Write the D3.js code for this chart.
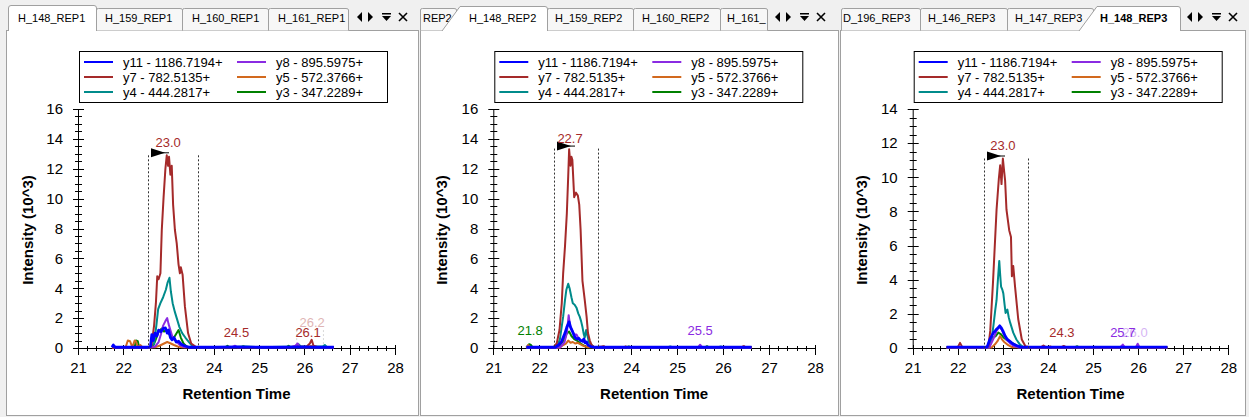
<!DOCTYPE html>
<html><head><meta charset="utf-8">
<script src="https://cdn.jsdelivr.net/npm/d3@7"></script>
<style>
body{margin:0;background:#f0f0f0;}
svg{display:block;font-family:"Liberation Sans",Arial,sans-serif;}
</style>
</head><body>
<svg id="c" width="1249" height="417"></svg>
<script>
// ---------------- DATA ----------------
const seriesNames = ["y11 - 1186.7194+","y8 - 895.5975+","y7 - 782.5135+","y5 - 572.3766+","y4 - 444.2817+","y3 - 347.2289+"];
const xTicks = [21,22,23,24,25,26,27,28];
const yTicks16 = [0,2,4,6,8,10,12,14,16];
const yTicks14 = [0,2,4,6,8,10,12,14];
const tabs1 = ["H_148_REP1","H_159_REP1","H_160_REP1","H_161_REP1"];
const tabs2 = ["REP2","H_148_REP2","H_159_REP2","H_160_REP2","H_161_"];
const tabs3 = ["D_196_REP3","H_146_REP3","H_147_REP3","H_148_REP3"];

// REP1 : [retention time, intensity 10^3]
const rep1_y11 = [[21.75,0.05],[21.78,0.2],[21.82,0.05],[22.0,0.05],[22.3,0.05],[22.55,0.05],[22.6,0.1],[22.63,0.9],[22.66,0.5],[22.7,1.0],[22.74,0.8],[22.78,1.2],[22.83,1.1],[22.88,1.3],[22.93,1.35],[22.97,1.0],[23.0,1.2],[23.04,0.7],[23.08,0.55],[23.12,0.7],[23.17,0.4],[23.22,0.45],[23.28,0.25],[23.35,0.15],[23.45,0.05],[24.0,0.05],[24.5,0.08],[25.0,0.05],[25.5,0.05],[26.0,0.07],[26.3,0.05],[26.65,0.05]];
const rep1_y8 = [[21.75,0.03],[22.6,0.03],[22.7,0.1],[22.78,0.4],[22.83,0.9],[22.88,1.5],[22.93,1.8],[22.97,2.0],[23.0,1.6],[23.04,1.2],[23.08,0.8],[23.12,0.65],[23.18,0.4],[23.25,0.2],[23.35,0.05],[24.4,0.05],[24.47,0.15],[24.52,0.05],[25.7,0.05],[25.8,0.15],[25.85,0.3],[25.9,0.05],[26.65,0.03]];
const rep1_y7 = [[21.75,0.02],[22.2,0.03],[22.55,0.05],[22.62,0.1],[22.68,1.5],[22.72,3.0],[22.75,4.8],[22.78,4.6],[22.82,5.0],[22.85,7.9],[22.89,10.1],[22.93,12.0],[22.96,12.9],[22.99,12.2],[23.01,12.8],[23.04,11.6],[23.07,12.2],[23.1,9.6],[23.14,7.9],[23.18,7.0],[23.22,5.6],[23.25,5.0],[23.27,5.4],[23.31,4.9],[23.36,2.8],[23.43,1.0],[23.5,0.3],[23.6,0.08],[23.7,0.05],[24.5,0.05],[25.5,0.05],[26.05,0.1],[26.12,0.3],[26.16,0.55],[26.2,0.15],[26.3,0.05],[26.65,0.03]];
const rep1_y5 = [[21.75,0.03],[22.05,0.03],[22.1,0.5],[22.15,0.45],[22.2,0.05],[22.25,0.5],[22.28,0.45],[22.32,0.05],[22.38,0.2],[22.42,0.05],[22.7,0.05],[22.8,0.15],[22.9,0.3],[22.97,0.4],[23.05,0.3],[23.12,0.2],[23.2,0.1],[23.3,0.05],[26.1,0.05],[26.15,0.15],[26.2,0.05],[26.65,0.03]];
const rep1_y4 = [[21.75,0.05],[22.3,0.05],[22.6,0.05],[22.68,0.3],[22.73,1.5],[22.77,2.6],[22.82,3.0],[22.88,3.4],[22.94,3.9],[22.98,4.4],[23.02,4.7],[23.05,3.8],[23.09,3.0],[23.14,2.4],[23.19,1.9],[23.24,1.4],[23.3,1.0],[23.37,0.7],[23.45,0.4],[23.52,0.15],[23.6,0.05],[24.3,0.05],[24.7,0.1],[25.0,0.05],[25.8,0.1],[25.87,0.25],[25.92,0.1],[26.4,0.1],[26.45,0.2],[26.5,0.05],[26.65,0.05]];
const rep1_y3 = [[21.75,0.03],[22.25,0.03],[22.28,0.5],[22.32,0.45],[22.35,0.05],[22.65,0.05],[22.72,0.6],[22.78,1.1],[22.85,1.3],[22.9,1.1],[22.95,1.2],[23.0,1.0],[23.05,0.8],[23.1,0.6],[23.16,0.9],[23.22,1.2],[23.27,0.7],[23.33,0.3],[23.4,0.1],[23.5,0.05],[24.25,0.05],[24.3,0.15],[24.35,0.05],[24.6,0.05],[24.65,0.12],[24.7,0.05],[25.6,0.05],[25.65,0.15],[25.7,0.05],[26.65,0.03]];

// REP2
const rep2_y11 = [[21.72,0.05],[22.35,0.05],[22.42,0.2],[22.48,0.4],[22.52,0.7],[22.56,1.0],[22.6,1.4],[22.65,1.75],[22.68,1.4],[22.71,1.2],[22.75,0.9],[22.78,0.7],[22.82,0.6],[22.86,0.65],[22.9,0.5],[22.94,0.45],[22.97,0.6],[23.0,0.35],[23.03,0.4],[23.06,0.2],[23.12,0.1],[23.2,0.05],[26.62,0.05]];
const rep2_y8 = [[21.72,0.03],[22.45,0.03],[22.55,0.4],[22.6,1.0],[22.64,2.2],[22.67,1.5],[22.71,1.2],[22.76,0.9],[22.81,0.9],[22.86,0.6],[22.92,0.5],[22.97,0.4],[23.03,0.3],[23.1,0.1],[23.2,0.03],[25.45,0.03],[25.5,0.22],[25.55,0.03],[26.62,0.03]];
const rep2_y7 = [[21.72,0.03],[22.3,0.03],[22.38,0.3],[22.44,1.2],[22.49,3.0],[22.52,5.0],[22.56,6.8],[22.6,9.0],[22.63,11.5],[22.65,13.3],[22.68,12.2],[22.7,12.8],[22.72,12.6],[22.76,10.1],[22.8,10.4],[22.84,10.2],[22.87,9.6],[22.9,7.9],[22.94,4.5],[22.99,3.2],[23.03,2.1],[23.06,1.0],[23.1,0.5],[23.14,0.2],[23.2,0.05],[23.4,0.1],[23.45,0.05],[24.0,0.05],[26.4,0.05],[26.45,0.12],[26.5,0.03],[26.62,0.03]];
const rep2_y5 = [[21.72,0.03],[21.76,0.2],[21.8,0.03],[22.45,0.03],[22.52,0.2],[22.58,0.3],[22.63,0.5],[22.68,0.35],[22.73,0.4],[22.78,0.3],[22.84,0.35],[22.9,0.25],[22.96,0.15],[23.05,0.05],[23.35,0.05],[23.4,0.12],[23.45,0.03],[23.85,0.03],[23.88,0.12],[23.92,0.03],[26.4,0.03],[26.45,0.1],[26.5,0.03],[26.62,0.03]];
const rep2_y4 = [[21.72,0.03],[22.38,0.05],[22.45,0.6],[22.52,2.1],[22.56,3.2],[22.59,3.9],[22.63,4.3],[22.66,4.0],[22.7,3.4],[22.73,3.0],[22.77,2.9],[22.81,2.7],[22.85,2.3],[22.88,2.1],[22.91,1.8],[22.94,1.4],[22.97,0.9],[22.99,0.7],[23.02,1.2],[23.05,0.8],[23.08,0.4],[23.14,0.2],[23.2,0.05],[24.8,0.05],[24.85,0.1],[24.9,0.05],[25.9,0.05],[25.95,0.1],[26.0,0.05],[26.62,0.03]];
const rep2_y3 = [[21.72,0.03],[21.78,0.25],[21.82,0.2],[21.86,0.03],[22.42,0.03],[22.5,0.4],[22.55,0.6],[22.6,1.0],[22.65,1.1],[22.7,0.8],[22.76,0.6],[22.82,0.5],[22.9,0.3],[22.98,0.15],[23.05,0.05],[23.9,0.05],[23.95,0.1],[24.0,0.03],[25.6,0.03],[25.65,0.12],[25.7,0.03],[26.62,0.03]];

// REP3
const rep3_y11 = [[21.75,0.05],[22.65,0.05],[22.71,0.5],[22.75,0.7],[22.79,0.9],[22.83,1.0],[22.86,1.1],[22.9,1.2],[22.93,1.3],[22.96,1.2],[23.0,1.0],[23.05,0.7],[23.1,0.5],[23.15,0.4],[23.22,0.25],[23.3,0.15],[23.4,0.05],[26.65,0.05]];
const rep3_y8 = [[21.75,0.03],[22.7,0.03],[22.8,0.6],[22.86,1.0],[22.92,1.25],[22.97,1.1],[23.02,0.8],[23.08,0.5],[23.15,0.3],[23.25,0.1],[23.35,0.03],[25.6,0.03],[25.66,0.2],[25.7,0.05],[25.95,0.05],[25.99,0.25],[26.03,0.05],[26.65,0.03]];
const rep3_y7 = [[21.75,0.03],[22.0,0.05],[22.05,0.3],[22.1,0.05],[22.6,0.05],[22.68,0.1],[22.72,1.0],[22.75,2.4],[22.78,3.8],[22.81,5.4],[22.86,8.1],[22.91,9.9],[22.94,10.7],[22.97,9.6],[23.0,11.1],[23.03,10.3],[23.05,9.8],[23.08,8.1],[23.14,6.9],[23.18,6.5],[23.2,4.2],[23.23,4.8],[23.27,3.6],[23.34,1.7],[23.42,0.5],[23.5,0.1],[23.6,0.05],[23.85,0.05],[23.9,0.15],[23.95,0.05],[24.3,0.05],[24.35,0.12],[24.4,0.05],[26.65,0.03]];
const rep3_y5 = [[21.75,0.03],[22.75,0.03],[22.82,0.2],[22.88,0.4],[22.94,0.7],[22.98,0.5],[23.03,0.35],[23.1,0.2],[23.2,0.05],[24.0,0.03],[24.05,0.1],[24.1,0.03],[26.65,0.03]];
const rep3_y4 = [[21.75,0.03],[22.7,0.03],[22.75,0.5],[22.79,1.3],[22.83,2.2],[22.86,2.8],[22.89,4.0],[22.92,5.1],[22.94,4.3],[22.96,3.6],[22.99,3.4],[23.01,3.2],[23.04,2.5],[23.06,2.05],[23.1,2.25],[23.13,1.8],[23.16,1.5],[23.23,0.9],[23.3,0.5],[23.38,0.2],[23.45,0.05],[26.65,0.03]];
const rep3_y3 = [[21.75,0.03],[22.65,0.03],[22.72,0.5],[22.78,0.6],[22.84,0.7],[22.9,0.9],[22.96,0.8],[23.02,0.6],[23.1,0.45],[23.2,0.3],[23.3,0.15],[23.4,0.05],[24.6,0.05],[24.65,0.1],[24.7,0.03],[26.65,0.03]];

// peak labels: [time, intensity at text baseline, text, series index, faded]
const rep1_labels = [[22.99,13.45,"23.0",2,0],[24.5,0.74,"24.5",2,0],[26.17,1.4,"26.2",2,1],[26.08,0.74,"26.1",2,0]];
const rep2_labels = [[22.67,13.72,"22.7",2,0],[21.8,0.87,"21.8",5,0],[25.5,0.87,"25.5",1,0]];
const rep3_labels = [[23.0,11.6,"23.0",2,0],[24.31,0.64,"24.3",2,0],[25.93,0.64,"26.0",1,1],[25.66,0.64,"25.7",1,0]];
// integration boundaries: [start, end, apex intensity]
const rep1_bounds = [22.54,23.64,12.9];
const rep2_bounds = [22.32,23.28,13.35];
const rep3_bounds = [22.58,23.56,11.1];
const rep1_ghost = [25.83,26.42,1.2];

// ---------------- STYLE / LAYOUT ----------------
const colors = ["#0000ff","#8a2be2","#a52a2a","#d2691e","#008b8b","#008000"];
const svg = d3.select("#c");

const panels = [
  {left:6,right:419,x0:78,x1:395,yMax:16,yTicks:yTicks16,
   series:[rep1_y11,rep1_y8,rep1_y7,rep1_y5,rep1_y4,rep1_y3],labels:rep1_labels,bounds:rep1_bounds,ghost:rep1_ghost,
   tabs:tabs1,tabEdges:[8,96,182,268,348],tabText:[18,105,192,278],active:0,bold:false,slant:false,icons:357},
  {left:420,right:839,x0:493.3,x1:815,yMax:16,yTicks:yTicks16,
   series:[rep2_y11,rep2_y8,rep2_y7,rep2_y5,rep2_y4,rep2_y3],labels:rep2_labels,bounds:rep2_bounds,ghost:null,
   tabs:tabs2,tabEdges:[420,456,547,633,720,767],tabText:[423,469,555,642,727],active:1,bold:false,slant:true,icons:775},
  {left:840,right:1246,x0:912.7,x1:1228.3,yMax:14,yTicks:yTicks14,
   series:[rep3_y11,rep3_y8,rep3_y7,rep3_y5,rep3_y4,rep3_y3],labels:rep3_labels,bounds:rep3_bounds,ghost:null,
   tabs:tabs3,tabEdges:[841,920,1007,1093,1180],tabText:[843,928,1015,1100],active:3,bold:true,slant:true,icons:1187}
];

const Y0 = 348, Y1 = 109;
const TABFONT = 11;

function drawTabs(p){
  const g = svg.append("g");
  g.append("rect").attr("x",p.left+0.5).attr("y",30.5).attr("width",p.right-p.left-1).attr("height",385)
    .attr("fill","#fff").attr("stroke","#a0a0a0");
  const e = p.tabEdges;
  for(let i=0;i<p.tabs.length;i++){
    if(i===p.active) continue;
    const a=e[i], b=e[i+1];
    const x0 = a+0.5;
    const d=`M${x0},30.5 L${x0},10 Q${x0},8.5 ${x0+2},8.5 L${b-2},8.5 Q${b+0.5},8.5 ${b+0.5},10 L${b+0.5},30.5`;
    g.append("path").attr("d",d).attr("fill","#f7f7f7").attr("stroke","#a0a0a0");
    g.append("text").attr("x",p.tabText[i]).attr("y",22).attr("font-size",TABFONT)
      .attr("fill","#000").text(p.tabs[i]);
  }
  const i=p.active, a=e[i], b=e[i+1];
  const d = p.slant ? `M${a-14},31 L${a+4},6.5 L${b-2},6.5 Q${b+0.5},6.5 ${b+0.5},9 L${b+0.5},31`
                    : `M${a+0.5},31 L${a+0.5},8 Q${a+0.5},5.5 ${a+3},5.5 L${b-2},5.5 Q${b+0.5},5.5 ${b+0.5},8 L${b+0.5},31`;
  g.append("path").attr("d",d+" Z").attr("fill","#fff").attr("stroke","none");
  g.append("path").attr("d",d).attr("fill","none").attr("stroke","#a0a0a0");
  g.append("text").attr("x",p.tabText[i]).attr("y",22).attr("font-size",TABFONT)
    .attr("font-weight",p.bold?"bold":"normal").text(p.tabs[i]);
  const ix=p.icons, iy=17;
  g.append("path").attr("d",`M${ix+5},${iy-5} L${ix},${iy} L${ix+5},${iy+5} Z`).attr("fill","#000");
  g.append("path").attr("d",`M${ix+11},${iy-5} L${ix+16},${iy} L${ix+11},${iy+5} Z`).attr("fill","#000");
  g.append("rect").attr("x",ix+25).attr("y",iy-4).attr("width",9).attr("height",1.5).attr("fill","#000");
  g.append("path").attr("d",`M${ix+25},${iy-1} L${ix+34},${iy-1} L${ix+29.5},${iy+4} Z`).attr("fill","#000");
  g.append("path").attr("d",`M${ix+42},${iy-4} L${ix+50},${iy+4} M${ix+50},${iy-4} L${ix+42},${iy+4}`)
    .attr("stroke","#000").attr("stroke-width",1.6);
}

function drawPanel(p){
  drawTabs(p);
  const g = svg.append("g");
  const x = d3.scaleLinear().domain([21,28]).range([p.x0,p.x1]);
  const y = d3.scaleLinear().domain([0,p.yMax]).range([Y0,Y1]);

  const bx = p.x0+1, by = 51;
  g.append("rect").attr("x",bx+0.5).attr("y",by+0.5).attr("width",308).attr("height",51)
    .attr("fill","#fff").attr("stroke","#000");
  seriesNames.forEach((n,k)=>{
    const col = k%2, row = Math.floor(k/2);
    const sx = bx + (col? 158 : 5), ty = 62 + row*15;
    g.append("line").attr("x1",sx).attr("x2",sx+29).attr("y1",ty).attr("y2",ty)
      .attr("stroke",colors[k]).attr("stroke-width",2);
    g.append("text").attr("x",sx+39).attr("y",ty).attr("dy","0.35em").attr("font-size",13).text(n);
  });

  const xAxis = d3.axisBottom(x).tickValues(xTicks).tickSize(0).tickPadding(14).tickFormat(d3.format("d"));
  const gx = g.append("g").attr("transform",`translate(0,${Y0})`).call(xAxis);
  gx.select(".domain").remove();
  gx.selectAll("text").attr("font-size",15).attr("font-family","Liberation Sans, Arial, sans-serif").attr("fill","#000");
  const yAxis = d3.axisLeft(y).tickValues(p.yTicks).tickSize(0).tickPadding(15).tickFormat(d3.format("d"));
  const gy = g.append("g").attr("transform",`translate(${p.x0},0)`).call(yAxis);
  gy.select(".domain").remove();
  gy.selectAll("text").attr("font-size",15).attr("font-family","Liberation Sans, Arial, sans-serif").attr("fill","#000");

  g.append("line").attr("x1",p.x0).attr("x2",p.x1).attr("y1",Y0+0.5).attr("y2",Y0+0.5).attr("stroke","#000");
  g.append("line").attr("x1",p.x0+0.5).attr("x2",p.x0+0.5).attr("y1",Y1).attr("y2",Y0).attr("stroke","#000");
  const xMinor = d3.range(21,28.001,0.2).filter(v=>Math.abs(v-Math.round(v))>0.01);
  xMinor.forEach(v=>{ g.append("line").attr("x1",Math.round(x(v))+0.5).attr("x2",Math.round(x(v))+0.5)
     .attr("y1",Y0-2).attr("y2",Y0+3).attr("stroke","#000"); });
  xTicks.forEach(v=>{ g.append("line").attr("x1",Math.round(x(v))+0.5).attr("x2",Math.round(x(v))+0.5)
     .attr("y1",Y0-3).attr("y2",Y0+7).attr("stroke","#000"); });
  const yMinor = d3.range(0,p.yMax+0.001,0.5).filter(v=>Math.abs(v/2-Math.round(v/2))>0.01);
  yMinor.forEach(v=>{ g.append("line").attr("x1",p.x0-3).attr("x2",p.x0+4).attr("y1",Math.round(y(v))+0.5)
     .attr("y2",Math.round(y(v))+0.5).attr("stroke","#000"); });
  p.yTicks.forEach(v=>{ g.append("line").attr("x1",p.x0-5).attr("x2",p.x0+6).attr("y1",Math.round(y(v))+0.5)
     .attr("y2",Math.round(y(v))+0.5).attr("stroke","#000"); });

  g.append("text").attr("x",(p.x0+p.x1)/2).attr("y",399).attr("text-anchor","middle")
    .attr("font-size",15).attr("font-weight","bold").text("Retention Time");
  g.append("text").attr("transform",`translate(${p.left+22},230) rotate(-90)`).attr("text-anchor","middle")
    .attr("dy","0.35em").attr("font-size",15).attr("font-weight","bold").text("Intensity (10^3)");

  if(p.ghost){
    [p.ghost[0],p.ghost[1]].forEach(t=>{
      g.append("line").attr("x1",x(t)).attr("x2",x(t)).attr("y1",y(p.ghost[2])).attr("y2",Y0)
        .attr("stroke","#d8d8d8").attr("stroke-dasharray","2,2");
    });
  }

  const line = d3.line().x(d=>x(d[0])).y(d=>y(d[1]));
  [5,4,3,1,2,0].forEach(k=>{
    g.append("path").datum(p.series[k]).attr("d",line).attr("fill","none")
      .attr("stroke",colors[k]).attr("stroke-width",k===0?2.8:2).attr("stroke-linejoin","round");
  });

  const [tL,tR,top] = p.bounds;
  [tL,tR].forEach(t=>{
    g.append("line").attr("x1",Math.round(x(t))+0.5).attr("x2",Math.round(x(t))+0.5).attr("y1",y(top)).attr("y2",Y0)
      .attr("stroke","#333").attr("stroke-dasharray","2,2");
  });
  const fx = Math.round(x(tL))+1, fy = y(top);
  g.append("path").attr("d",`M${fx+2},${fy-7} L${fx+16},${fy-2.5} L${fx+2},${fy+2} Z`).attr("fill","#000");
  g.append("line").attr("x1",fx+2).attr("x2",fx+20).attr("y1",fy-2.5).attr("y2",fy-2.5).attr("stroke","#000");

  p.labels.forEach(l=>{
    g.append("text").attr("x",x(l[0])).attr("y",y(l[1])).attr("text-anchor","middle")
      .attr("font-size",13).attr("fill",colors[l[3]]).attr("opacity",l[4]?0.35:1).text(l[2]);
  });
}

panels.forEach(drawPanel);
</script>
</body></html>
